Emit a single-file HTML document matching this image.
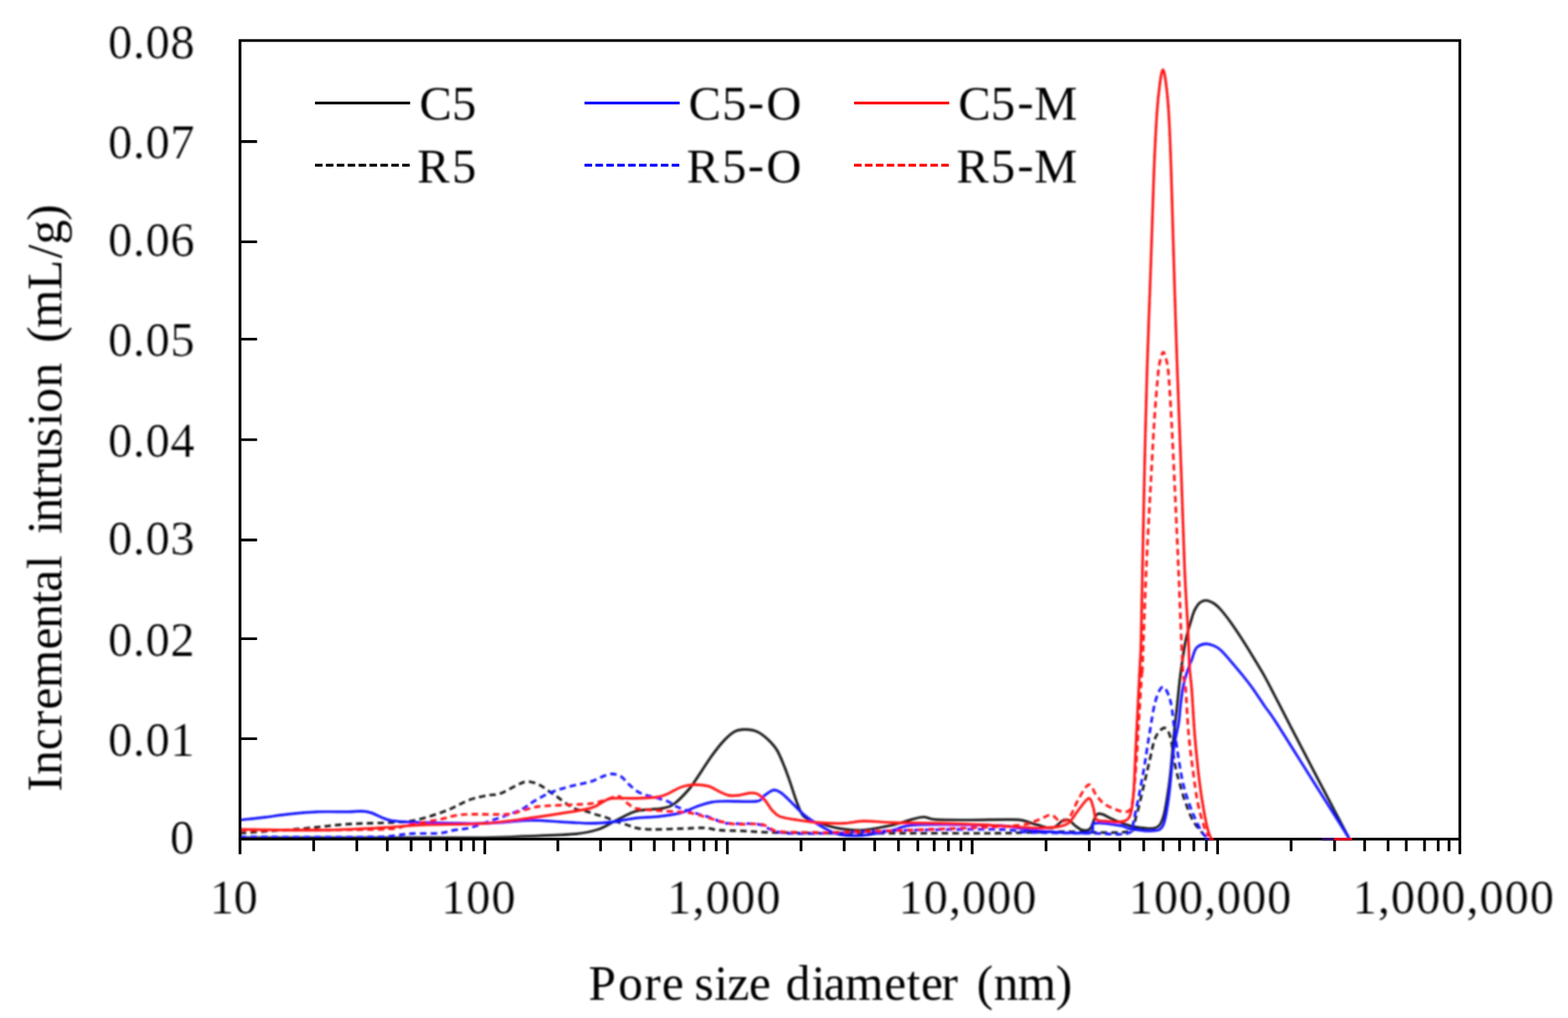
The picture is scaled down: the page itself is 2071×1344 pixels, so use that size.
<!DOCTYPE html>
<html lang="en"><head><meta charset="utf-8"><title>Chart</title>
<style>html,body{margin:0;padding:0;background:#fff;}body{width:2071px;height:1344px;overflow:hidden;}svg{display:block;}text{font-family:"Liberation Serif",serif;font-size:64px;fill:#000;}.tk text{stroke:#fff;stroke-width:0.12px;}</style>
</head><body>
<svg width="2071" height="1344" viewBox="0 0 2071 1344">
<defs><filter id="soft" filterUnits="userSpaceOnUse" x="0" y="0" width="2071" height="1344"><feGaussianBlur stdDeviation="0.80"/></filter></defs>
<rect x="0" y="0" width="2071" height="1344" fill="#fff"/>
<g fill="none" stroke-width="3.4" stroke-linejoin="round" stroke-linecap="butt" filter="url(#soft)">
<path d="M317.0,1106.0 C347.5,1106.0 446.2,1106.0 500.0,1106.0 C553.8,1106.0 607.3,1106.3 640.0,1106.0 C672.7,1105.7 676.0,1104.8 696.0,1104.0 C716.0,1103.2 744.3,1102.5 760.0,1101.0 C775.7,1099.5 781.3,1097.8 790.0,1095.0 C798.7,1092.2 805.3,1087.3 812.0,1084.0 C818.7,1080.7 824.7,1077.3 830.0,1075.0 C835.3,1072.7 836.3,1071.3 844.0,1070.0 C851.7,1068.7 868.0,1068.7 876.0,1067.0 C884.0,1065.3 886.3,1064.2 892.0,1060.0 C897.7,1055.8 905.3,1047.3 910.0,1042.0 C914.7,1036.7 915.0,1035.3 920.0,1028.0 C925.0,1020.7 934.0,1006.3 940.0,998.0 C946.0,989.7 951.0,983.3 956.0,978.0 C961.0,972.7 965.3,968.5 970.0,966.0 C974.7,963.5 979.0,963.0 984.0,963.0 C989.0,963.0 995.0,963.8 1000.0,966.0 C1005.0,968.2 1009.7,972.0 1014.0,976.0 C1018.3,980.0 1022.3,984.0 1026.0,990.0 C1029.7,996.0 1033.0,1004.7 1036.0,1012.0 C1039.0,1019.3 1041.3,1026.3 1044.0,1034.0 C1046.7,1041.7 1049.3,1051.0 1052.0,1058.0 C1054.7,1065.0 1057.0,1071.8 1060.0,1076.0 C1063.0,1080.2 1065.0,1080.8 1070.0,1083.0 C1075.0,1085.2 1083.3,1087.2 1090.0,1089.0 C1096.7,1090.8 1101.7,1092.8 1110.0,1094.0 C1118.3,1095.2 1128.3,1096.8 1140.0,1096.0 C1151.7,1095.2 1169.3,1091.3 1180.0,1089.0 C1190.7,1086.7 1197.3,1083.7 1204.0,1082.0 C1210.7,1080.3 1214.7,1078.6 1220.0,1078.6 C1225.3,1078.6 1226.0,1081.3 1236.0,1082.0 C1246.0,1082.7 1264.3,1082.6 1280.0,1082.6 C1295.7,1082.6 1318.3,1081.9 1330.0,1082.0 C1341.7,1082.1 1343.3,1081.8 1350.0,1083.0 C1356.7,1084.2 1363.3,1087.3 1370.0,1089.0 C1376.7,1090.7 1384.3,1094.0 1390.0,1093.0 C1395.7,1092.0 1400.3,1084.7 1404.0,1083.0 C1407.7,1081.3 1409.3,1081.8 1412.0,1083.0 C1414.7,1084.2 1417.0,1087.8 1420.0,1090.0 C1423.0,1092.2 1426.7,1095.3 1430.0,1096.0 C1433.3,1096.7 1437.0,1097.3 1440.0,1094.0 C1443.0,1090.7 1445.3,1079.2 1448.0,1076.0 C1450.7,1072.8 1453.0,1074.3 1456.0,1075.0 C1459.0,1075.7 1462.0,1078.2 1466.0,1080.0 C1470.0,1081.8 1474.3,1084.0 1480.0,1086.0 C1485.7,1088.0 1492.3,1090.8 1500.0,1092.0 C1507.7,1093.2 1520.0,1095.0 1526.0,1093.0 C1532.0,1091.0 1533.3,1087.2 1536.0,1080.0 C1538.7,1072.8 1540.3,1060.0 1542.0,1050.0 C1543.7,1040.0 1544.7,1032.5 1546.0,1020.0 C1547.3,1007.5 1548.6,989.3 1550.0,975.0 C1551.4,960.7 1553.2,946.5 1554.5,934.0 C1555.8,921.5 1556.8,910.7 1558.0,900.0 C1559.2,889.3 1560.7,879.0 1562.0,870.0 C1563.3,861.0 1564.7,852.7 1566.0,846.0 C1567.3,839.3 1568.8,834.3 1570.0,830.0 C1571.2,825.7 1572.0,823.3 1573.0,820.0 C1574.0,816.7 1574.9,812.9 1576.0,810.0 C1577.1,807.1 1578.0,804.9 1579.5,802.5 C1581.0,800.1 1582.8,797.1 1585.0,795.5 C1587.2,793.9 1589.9,792.4 1593.0,792.6 C1596.1,792.9 1600.5,794.9 1603.8,797.0 C1607.0,799.1 1608.6,800.5 1612.5,805.0 C1616.4,809.5 1622.2,817.0 1627.0,823.8 C1631.8,830.6 1636.8,838.1 1641.6,845.6 C1646.4,853.1 1651.2,860.8 1656.0,868.8 C1660.8,876.8 1665.8,884.8 1670.6,893.5 C1675.4,902.2 1679.7,910.8 1685.0,921.0 C1690.3,931.2 1693.0,936.7 1702.5,955.0 C1712.0,973.3 1728.8,1005.7 1742.0,1031.0 C1755.2,1056.3 1775.3,1094.3 1782.0,1107.0" stroke="#1a1a1a"/>
<path d="M317.0,1100.0 C330.8,1099.0 376.2,1095.9 400.0,1093.9 C423.8,1091.9 440.0,1089.3 460.0,1088.0 C480.0,1086.7 505.0,1086.7 520.0,1085.8 C535.0,1084.9 538.3,1085.2 550.0,1082.6 C561.7,1080.0 578.3,1074.4 590.0,1070.0 C601.7,1065.6 611.0,1059.3 620.0,1056.0 C629.0,1052.7 637.3,1051.3 644.0,1050.0 C650.7,1048.7 653.3,1050.3 660.0,1048.0 C666.7,1045.7 677.8,1038.7 684.0,1036.0 C690.2,1033.3 692.3,1031.8 697.0,1031.8 C701.7,1031.8 707.5,1034.0 712.0,1036.0 C716.5,1038.0 720.0,1041.3 724.0,1044.0 C728.0,1046.7 732.0,1049.2 736.0,1052.0 C740.0,1054.8 744.0,1058.3 748.0,1061.0 C752.0,1063.7 755.7,1066.3 760.0,1068.0 C764.3,1069.7 769.7,1069.8 774.0,1071.0 C778.3,1072.2 781.7,1073.7 786.0,1075.0 C790.3,1076.3 795.7,1077.5 800.0,1079.0 C804.3,1080.5 807.3,1082.3 812.0,1084.0 C816.7,1085.7 823.3,1087.5 828.0,1089.0 C832.7,1090.5 834.7,1092.0 840.0,1093.0 C845.3,1094.0 850.0,1094.8 860.0,1095.0 C870.0,1095.2 888.3,1094.3 900.0,1094.0 C911.7,1093.7 921.7,1092.7 930.0,1093.0 C938.3,1093.3 941.7,1095.3 950.0,1096.0 C958.3,1096.7 968.3,1096.5 980.0,1097.0 C991.7,1097.5 1000.0,1098.5 1020.0,1099.0 C1040.0,1099.5 1065.0,1099.8 1100.0,1100.0 C1135.0,1100.2 1193.3,1100.0 1230.0,1100.0 C1266.7,1100.0 1291.7,1100.3 1320.0,1100.0 C1348.3,1099.7 1371.7,1098.3 1400.0,1098.0 C1428.3,1097.7 1473.3,1101.0 1490.0,1098.0 C1506.7,1095.0 1496.7,1089.7 1500.0,1080.0 C1503.3,1070.3 1507.0,1052.3 1510.0,1040.0 C1513.0,1027.7 1515.3,1017.0 1518.0,1006.0 C1520.7,995.0 1522.7,981.5 1526.0,974.0 C1529.3,966.5 1534.7,961.0 1538.0,961.0 C1541.3,961.0 1543.7,965.8 1546.0,974.0 C1548.3,982.2 1550.0,1000.0 1552.0,1010.0 C1554.0,1020.0 1555.7,1025.7 1558.0,1034.0 C1560.3,1042.3 1563.0,1051.7 1566.0,1060.0 C1569.0,1068.3 1572.0,1077.0 1576.0,1084.0 C1580.0,1091.0 1586.7,1098.2 1590.0,1102.0 C1593.3,1105.8 1595.0,1106.2 1596.0,1107.0" stroke="#1a1a1a" stroke-dasharray="8.5 5.5"/>
<path d="M317.0,1082.6 C322.5,1082.0 339.5,1080.3 350.0,1079.0 C360.5,1077.7 368.3,1076.2 380.0,1075.0 C391.7,1073.8 406.7,1072.3 420.0,1071.8 C433.3,1071.3 450.7,1071.9 460.0,1071.8 C469.3,1071.7 471.0,1070.8 476.0,1071.0 C481.0,1071.2 483.3,1071.0 490.0,1073.0 C496.7,1075.0 504.3,1081.0 516.0,1083.2 C527.7,1085.4 539.3,1085.4 560.0,1086.0 C580.7,1086.6 616.7,1087.5 640.0,1087.0 C663.3,1086.5 683.3,1083.3 700.0,1083.0 C716.7,1082.7 726.7,1084.3 740.0,1085.0 C753.3,1085.7 768.3,1087.0 780.0,1087.0 C791.7,1087.0 800.0,1086.2 810.0,1085.0 C820.0,1083.8 830.0,1081.2 840.0,1080.0 C850.0,1078.8 860.0,1079.2 870.0,1078.0 C880.0,1076.8 891.7,1075.2 900.0,1073.0 C908.3,1070.8 913.3,1067.3 920.0,1065.0 C926.7,1062.7 933.3,1060.2 940.0,1059.0 C946.7,1057.8 950.0,1058.0 960.0,1057.8 C970.0,1057.6 991.7,1059.1 1000.0,1057.8 C1008.3,1056.5 1006.3,1052.5 1010.0,1050.0 C1013.7,1047.5 1018.3,1043.5 1022.0,1043.0 C1025.7,1042.5 1028.3,1044.5 1032.0,1047.0 C1035.7,1049.5 1039.3,1053.5 1044.0,1058.0 C1048.7,1062.5 1055.3,1069.8 1060.0,1074.0 C1064.7,1078.2 1067.0,1079.7 1072.0,1083.0 C1077.0,1086.3 1083.7,1090.8 1090.0,1094.0 C1096.3,1097.2 1101.7,1100.5 1110.0,1102.0 C1118.3,1103.5 1128.3,1104.0 1140.0,1103.0 C1151.7,1102.0 1168.3,1098.3 1180.0,1096.0 C1191.7,1093.7 1186.7,1090.0 1210.0,1089.0 C1233.3,1088.0 1295.0,1088.8 1320.0,1090.0 C1345.0,1091.2 1346.7,1094.5 1360.0,1096.0 C1373.3,1097.5 1386.7,1098.5 1400.0,1099.0 C1413.3,1099.5 1432.3,1101.0 1440.0,1099.0 C1447.7,1097.0 1439.3,1088.5 1446.0,1087.0 C1452.7,1085.5 1472.3,1088.8 1480.0,1090.0 C1487.7,1091.2 1485.3,1092.8 1492.0,1094.0 C1498.7,1095.2 1512.7,1097.7 1520.0,1097.0 C1527.3,1096.3 1532.0,1097.8 1536.0,1090.0 C1540.0,1082.2 1541.7,1066.7 1544.0,1050.0 C1546.3,1033.3 1547.9,1005.8 1550.0,990.0 C1552.1,974.2 1555.2,964.3 1556.7,955.0 C1558.2,945.7 1558.1,941.2 1558.9,934.0 C1559.8,926.8 1560.8,918.0 1561.8,912.0 C1562.8,906.0 1563.6,902.1 1564.7,897.8 C1565.8,893.5 1567.1,889.6 1568.3,886.0 C1569.5,882.4 1570.9,878.9 1572.0,876.0 C1573.1,873.1 1573.8,871.5 1574.8,868.8 C1575.8,866.1 1576.5,862.5 1577.7,860.0 C1578.9,857.5 1579.5,855.3 1582.0,853.6 C1584.5,851.9 1589.4,850.1 1593.0,850.0 C1596.6,849.9 1600.5,851.4 1603.8,852.8 C1607.0,854.2 1608.6,855.0 1612.5,858.6 C1616.4,862.2 1622.2,869.0 1627.0,874.6 C1631.8,880.2 1636.8,886.0 1641.6,892.0 C1646.4,898.0 1651.2,904.1 1656.0,910.9 C1660.8,917.7 1665.8,925.6 1670.6,932.6 C1675.4,939.6 1674.5,936.8 1685.0,953.0 C1695.5,969.2 1717.3,1004.3 1733.5,1030.0 C1749.7,1055.7 1773.9,1094.2 1782.0,1107.0" stroke="#1414ff"/>
<path d="M317.0,1105.0 C345.8,1105.0 455.3,1105.4 490.0,1105.0 C524.7,1104.6 515.8,1103.2 525.0,1102.5 C534.2,1101.8 535.8,1100.9 545.0,1100.5 C554.2,1100.1 570.8,1100.8 580.0,1100.0 C589.2,1099.2 593.3,1097.2 600.0,1096.0 C606.7,1094.8 611.7,1095.2 620.0,1093.0 C628.3,1090.8 641.7,1085.8 650.0,1083.0 C658.3,1080.2 663.3,1078.5 670.0,1076.0 C676.7,1073.5 684.2,1071.0 690.0,1068.0 C695.8,1065.0 699.0,1061.5 705.0,1058.0 C711.0,1054.5 718.5,1050.2 726.0,1047.0 C733.5,1043.8 741.0,1041.5 750.0,1039.0 C759.0,1036.5 772.7,1034.2 780.0,1032.0 C787.3,1029.8 789.5,1027.7 794.0,1026.0 C798.5,1024.3 802.7,1022.0 807.0,1021.8 C811.3,1021.6 816.2,1022.8 820.0,1025.0 C823.8,1027.2 826.3,1031.7 830.0,1035.0 C833.7,1038.3 838.0,1042.5 842.0,1045.0 C846.0,1047.5 849.3,1048.5 854.0,1050.0 C858.7,1051.5 865.0,1052.5 870.0,1054.0 C875.0,1055.5 879.7,1057.0 884.0,1059.0 C888.3,1061.0 890.0,1063.5 896.0,1066.0 C902.0,1068.5 912.7,1071.7 920.0,1074.0 C927.3,1076.3 933.3,1077.8 940.0,1080.0 C946.7,1082.2 950.0,1085.7 960.0,1087.0 C970.0,1088.3 990.0,1086.5 1000.0,1088.0 C1010.0,1089.5 1013.3,1094.0 1020.0,1096.0 C1026.7,1098.0 1026.7,1099.3 1040.0,1100.0 C1053.3,1100.7 1073.3,1100.7 1100.0,1100.0 C1126.7,1099.3 1163.3,1096.8 1200.0,1096.0 C1236.7,1095.2 1293.3,1094.5 1320.0,1095.0 C1346.7,1095.5 1340.0,1098.2 1360.0,1099.0 C1380.0,1099.8 1418.3,1099.8 1440.0,1100.0 C1461.7,1100.2 1480.3,1103.3 1490.0,1100.0 C1499.7,1096.7 1494.7,1093.3 1498.0,1080.0 C1501.3,1066.7 1506.7,1038.3 1510.0,1020.0 C1513.3,1001.7 1515.3,985.7 1518.0,970.0 C1520.7,954.3 1523.0,936.5 1526.0,926.0 C1529.0,915.5 1532.7,907.0 1536.0,907.0 C1539.3,907.0 1543.3,915.5 1546.0,926.0 C1548.7,936.5 1550.0,956.0 1552.0,970.0 C1554.0,984.0 1556.0,998.3 1558.0,1010.0 C1560.0,1021.7 1561.3,1030.0 1564.0,1040.0 C1566.7,1050.0 1570.3,1060.7 1574.0,1070.0 C1577.7,1079.3 1582.7,1090.0 1586.0,1096.0 C1589.3,1102.0 1592.7,1104.3 1594.0,1106.0" stroke="#1414ff" stroke-dasharray="8.5 5.5"/>
<path d="M317.0,1095.0 C334.2,1095.2 389.5,1096.3 420.0,1096.0 C450.5,1095.7 476.7,1094.2 500.0,1093.0 C523.3,1091.8 536.7,1090.0 560.0,1089.0 C583.3,1088.0 616.7,1088.5 640.0,1087.0 C663.3,1085.5 683.3,1082.2 700.0,1080.0 C716.7,1077.8 726.7,1076.2 740.0,1074.0 C753.3,1071.8 770.7,1069.5 780.0,1067.0 C789.3,1064.5 791.3,1061.2 796.0,1059.0 C800.7,1056.8 800.7,1054.8 808.0,1054.0 C815.3,1053.2 829.7,1054.3 840.0,1054.0 C850.3,1053.7 862.7,1053.2 870.0,1052.0 C877.3,1050.8 879.0,1049.2 884.0,1047.0 C889.0,1044.8 894.7,1040.8 900.0,1039.0 C905.3,1037.2 910.0,1036.2 916.0,1036.0 C922.0,1035.8 930.3,1036.5 936.0,1038.0 C941.7,1039.5 945.7,1043.0 950.0,1045.0 C954.3,1047.0 957.7,1049.2 962.0,1050.0 C966.3,1050.8 971.3,1050.5 976.0,1050.0 C980.7,1049.5 986.0,1047.3 990.0,1047.0 C994.0,1046.7 996.7,1046.5 1000.0,1048.0 C1003.3,1049.5 1006.7,1052.3 1010.0,1056.0 C1013.3,1059.7 1016.7,1066.3 1020.0,1070.0 C1023.3,1073.7 1025.0,1076.0 1030.0,1078.0 C1035.0,1080.0 1041.7,1080.7 1050.0,1082.0 C1058.3,1083.3 1069.3,1085.2 1080.0,1086.0 C1090.7,1086.8 1104.0,1087.3 1114.0,1087.0 C1124.0,1086.7 1129.0,1084.2 1140.0,1084.0 C1151.0,1083.8 1163.3,1085.5 1180.0,1086.0 C1196.7,1086.5 1220.0,1086.5 1240.0,1087.0 C1260.0,1087.5 1280.0,1088.0 1300.0,1089.0 C1320.0,1090.0 1346.7,1092.3 1360.0,1093.0 C1373.3,1093.7 1373.3,1093.3 1380.0,1093.0 C1386.7,1092.7 1394.7,1092.2 1400.0,1091.0 C1405.3,1089.8 1408.0,1089.5 1412.0,1086.0 C1416.0,1082.5 1419.7,1075.3 1424.0,1070.0 C1428.3,1064.7 1434.7,1054.7 1438.0,1054.0 C1441.3,1053.3 1442.3,1061.3 1444.0,1066.0 C1445.7,1070.7 1445.3,1079.0 1448.0,1082.0 C1450.7,1085.0 1454.7,1083.5 1460.0,1084.0 C1465.3,1084.5 1474.7,1086.0 1480.0,1085.0 C1485.3,1084.0 1489.2,1083.8 1492.0,1078.0 C1494.8,1072.2 1495.7,1064.7 1497.0,1050.0 C1498.3,1035.3 1499.2,1006.7 1500.0,990.0 C1500.8,973.3 1501.2,966.7 1502.0,950.0 C1502.8,933.3 1504.2,906.7 1505.0,890.0 C1505.8,873.3 1506.3,873.3 1507.0,850.0 C1507.7,826.7 1508.2,788.5 1509.0,750.0 C1509.8,711.5 1510.7,662.3 1511.7,619.0 C1512.7,575.7 1513.6,534.8 1515.0,490.0 C1516.4,445.2 1518.5,393.3 1520.0,350.0 C1521.5,306.7 1522.7,263.3 1524.0,230.0 C1525.3,196.7 1526.7,170.0 1528.0,150.0 C1529.3,130.0 1530.7,119.7 1532.0,110.0 C1533.3,100.3 1534.7,92.0 1536.0,92.0 C1537.3,92.0 1538.7,100.3 1540.0,110.0 C1541.3,119.7 1542.5,130.0 1543.7,150.0 C1544.9,170.0 1545.9,196.7 1547.0,230.0 C1548.1,263.3 1549.2,306.7 1550.5,350.0 C1551.8,393.3 1553.4,445.2 1555.0,490.0 C1556.6,534.8 1558.4,575.7 1560.0,619.0 C1561.6,662.3 1563.1,714.8 1564.6,750.0 C1566.1,785.2 1567.9,808.5 1569.0,830.0 C1570.1,851.5 1570.2,865.7 1571.0,879.0 C1571.8,892.3 1572.8,894.8 1574.0,910.0 C1575.2,925.2 1576.3,950.0 1578.0,970.0 C1579.7,990.0 1582.0,1013.3 1584.0,1030.0 C1586.0,1046.7 1588.0,1058.7 1590.0,1070.0 C1592.0,1081.3 1594.3,1091.8 1596.0,1098.0 C1597.7,1104.2 1599.3,1105.5 1600.0,1107.0" stroke="#ff1414"/>
<path d="M317.0,1096.0 C347.5,1095.8 462.8,1096.2 500.0,1095.0 C537.2,1093.8 526.7,1091.2 540.0,1089.0 C553.3,1086.8 570.0,1084.0 580.0,1082.0 C590.0,1080.0 593.3,1078.2 600.0,1077.0 C606.7,1075.8 608.3,1075.3 620.0,1075.0 C631.7,1074.7 658.3,1075.8 670.0,1075.0 C681.7,1074.2 683.3,1071.7 690.0,1070.0 C696.7,1068.3 701.7,1066.2 710.0,1065.0 C718.3,1063.8 728.3,1063.7 740.0,1063.0 C751.7,1062.3 770.0,1062.2 780.0,1061.0 C790.0,1059.8 794.0,1057.7 800.0,1056.0 C806.0,1054.3 812.0,1051.0 816.0,1051.0 C820.0,1051.0 821.3,1054.0 824.0,1056.0 C826.7,1058.0 828.7,1061.0 832.0,1063.0 C835.3,1065.0 836.0,1066.7 844.0,1068.0 C852.0,1069.3 869.0,1070.2 880.0,1071.0 C891.0,1071.8 901.7,1071.8 910.0,1073.0 C918.3,1074.2 923.3,1076.2 930.0,1078.0 C936.7,1079.8 943.3,1082.3 950.0,1084.0 C956.7,1085.7 961.0,1087.3 970.0,1088.0 C979.0,1088.7 996.3,1087.2 1004.0,1088.0 C1011.7,1088.8 1011.7,1091.3 1016.0,1093.0 C1020.3,1094.7 1019.3,1097.0 1030.0,1098.0 C1040.7,1099.0 1068.3,1098.8 1080.0,1099.0 C1091.7,1099.2 1080.0,1099.5 1100.0,1099.0 C1120.0,1098.5 1160.0,1097.5 1200.0,1096.0 C1240.0,1094.5 1311.7,1092.2 1340.0,1090.0 C1368.3,1087.8 1362.0,1085.3 1370.0,1083.0 C1378.0,1080.7 1383.0,1075.8 1388.0,1076.0 C1393.0,1076.2 1396.0,1083.3 1400.0,1084.0 C1404.0,1084.7 1408.0,1084.7 1412.0,1080.0 C1416.0,1075.3 1419.7,1063.3 1424.0,1056.0 C1428.3,1048.7 1434.0,1037.0 1438.0,1036.0 C1442.0,1035.0 1444.7,1045.8 1448.0,1050.0 C1451.3,1054.2 1454.0,1058.0 1458.0,1061.0 C1462.0,1064.0 1467.3,1066.2 1472.0,1068.0 C1476.7,1069.8 1482.3,1072.3 1486.0,1072.0 C1489.7,1071.7 1492.0,1071.3 1494.0,1066.0 C1496.0,1060.7 1496.7,1052.7 1498.0,1040.0 C1499.3,1027.3 1501.2,1001.7 1502.0,990.0 C1502.8,978.3 1502.0,986.7 1503.0,970.0 C1504.0,953.3 1507.0,905.2 1508.0,890.0 C1509.0,874.8 1508.0,902.3 1509.0,879.0 C1510.0,855.7 1512.0,793.3 1514.0,750.0 C1516.0,706.7 1519.2,652.3 1521.0,619.0 C1522.8,585.7 1523.5,571.5 1525.0,550.0 C1526.5,528.5 1528.5,503.3 1530.0,490.0 C1531.5,476.7 1532.9,474.2 1534.0,470.0 C1535.1,465.8 1535.7,465.0 1536.5,465.0 C1537.3,465.0 1537.9,465.8 1539.0,470.0 C1540.1,474.2 1541.7,476.7 1543.0,490.0 C1544.3,503.3 1545.8,528.5 1547.0,550.0 C1548.2,571.5 1548.9,585.7 1550.5,619.0 C1552.1,652.3 1554.6,706.7 1556.5,750.0 C1558.4,793.3 1560.4,852.3 1562.0,879.0 C1563.6,905.7 1564.7,894.8 1566.0,910.0 C1567.3,925.2 1568.3,951.7 1570.0,970.0 C1571.7,988.3 1574.0,1005.0 1576.0,1020.0 C1578.0,1035.0 1579.7,1048.3 1582.0,1060.0 C1584.3,1071.7 1587.7,1082.7 1590.0,1090.0 C1592.3,1097.3 1595.0,1101.7 1596.0,1104.0" stroke="#ff1414" stroke-dasharray="8.5 5.5"/>
</g>
<g stroke="#000" stroke-width="3.6" fill="none">
<rect x="317.0" y="53.5" width="1611.2" height="1054.3"/>
<path d="M317.0,186.9 H339.5 M317.0,319.2 H339.5 M317.0,447.7 H339.5 M317.0,580.5 H339.5 M317.0,712.9 H339.5 M317.0,843.3 H339.5 M317.0,975.3 H339.5 M317.0,1107.8 V1127.8 M640.3,1107.8 V1127.8 M960.7,1107.8 V1127.8 M1284.0,1107.8 V1127.8 M1608.2,1107.8 V1127.8 M1928.2,1107.8 V1127.8 M414.3,1107.8 V1123.8 M471.3,1107.8 V1123.8 M511.6,1107.8 V1123.8 M543.0,1107.8 V1123.8 M568.6,1107.8 V1123.8 M590.2,1107.8 V1123.8 M609.0,1107.8 V1123.8 M625.5,1107.8 V1123.8 M736.8,1107.8 V1123.8 M793.2,1107.8 V1123.8 M833.2,1107.8 V1123.8 M864.2,1107.8 V1123.8 M889.6,1107.8 V1123.8 M911.1,1107.8 V1123.8 M929.7,1107.8 V1123.8 M946.0,1107.8 V1123.8 M1058.0,1107.8 V1123.8 M1115.0,1107.8 V1123.8 M1155.3,1107.8 V1123.8 M1186.7,1107.8 V1123.8 M1212.3,1107.8 V1123.8 M1233.9,1107.8 V1123.8 M1252.7,1107.8 V1123.8 M1269.2,1107.8 V1123.8 M1381.6,1107.8 V1123.8 M1438.7,1107.8 V1123.8 M1479.2,1107.8 V1123.8 M1510.6,1107.8 V1123.8 M1536.3,1107.8 V1123.8 M1558.0,1107.8 V1123.8 M1576.8,1107.8 V1123.8 M1593.4,1107.8 V1123.8 M1705.3,1107.8 V1123.8 M1762.7,1107.8 V1123.8 M1802.4,1107.8 V1123.8 M1833.4,1107.8 V1123.8 M1857.4,1107.8 V1123.8 M1881.5,1107.8 V1123.8 M1899.6,1107.8 V1123.8 M1913.9,1107.8 V1123.8"/>
</g>
<line x1="416.0" y1="136.0" x2="541.7" y2="136.0" stroke="#000" stroke-width="3.7"/>
<line x1="416.0" y1="218.1" x2="541.7" y2="218.1" stroke="#000" stroke-width="3.7" stroke-dasharray="10 4.4"/>
<line x1="772.0" y1="136.0" x2="897.7" y2="136.0" stroke="#0000ff" stroke-width="3.7"/>
<line x1="772.0" y1="218.1" x2="897.7" y2="218.1" stroke="#0000ff" stroke-width="3.7" stroke-dasharray="10 4.4"/>
<line x1="1128.0" y1="136.0" x2="1253.7" y2="136.0" stroke="#ff0000" stroke-width="3.7"/>
<line x1="1128.0" y1="218.1" x2="1253.7" y2="218.1" stroke="#ff0000" stroke-width="3.7" stroke-dasharray="10 4.4"/>
<path d="M1746,1107.8 H1762" stroke="#30106a" stroke-width="3.6"/>
<path d="M1762,1107.8 H1786" stroke="#e00020" stroke-width="3.6"/>
<path d="M1591,1107.8 H1597" stroke="#1a10a0" stroke-width="3.6"/>
<path d="M1597,1107.8 H1603" stroke="#d00018" stroke-width="3.6"/>
<g filter="url(#soft)">
<g class="tk">
<text x="142.7" y="76.5" textLength="114.2" lengthAdjust="spacing">0.08</text>
<text x="142.7" y="208.6" textLength="114.2" lengthAdjust="spacing">0.07</text>
<text x="142.7" y="337.5" textLength="114.2" lengthAdjust="spacing">0.06</text>
<text x="142.7" y="470.0" textLength="114.2" lengthAdjust="spacing">0.05</text>
<text x="142.7" y="603.3" textLength="114.2" lengthAdjust="spacing">0.04</text>
<text x="142.7" y="732.3" textLength="114.2" lengthAdjust="spacing">0.03</text>
<text x="142.7" y="865.5" textLength="114.2" lengthAdjust="spacing">0.02</text>
<text x="142.7" y="997.8" textLength="114.2" lengthAdjust="spacing">0.01</text>
<text x="256.5" y="1127" text-anchor="end">0</text>
<text x="277.0" y="1206" textLength="63.5" lengthAdjust="spacing">10</text>
<text x="582.8" y="1206" textLength="98.1" lengthAdjust="spacing">100</text>
<text x="880.9" y="1206" textLength="150.1" lengthAdjust="spacing">1,000</text>
<text x="1186.8" y="1206" textLength="182.2" lengthAdjust="spacing">10,000</text>
<text x="1490.8" y="1206" textLength="214.7" lengthAdjust="spacing">100,000</text>
<text x="1786.5" y="1206" textLength="265.9" lengthAdjust="spacing">1,000,000</text>
</g>
<text x="777.2 816.4 851.0 874.3 903.2 917.2 943.4 960.7 989.2 1018.1 1037.7 1071.9 1088.0 1116.3 1168.1 1197.5 1216.6 1243.4 1265.0 1290.1 1312.5 1344.2 1394.4" y="1320.3" style="font-size:65px">Pore size diameter (nm)</text>
<text transform="rotate(-90)" x="-1045.0 -1023.1 -990.5 -960.0 -936.8 -908.5 -857.6 -829.9 -798.1 -781.1 -751.2 -733.1 -705.0 -689.7 -659.5 -640.9 -621.6 -590.2 -563.0 -544.8 -511.5 -479.0 -452.6 -433.1 -382.8 -340.9 -322.8 -291.6" y="81.2" style="font-size:65px">Incremental intrusion (mL/g)</text>
<g class="lg">
<text x="554.0 596.9" y="158.3 158.3">C5</text>
<text x="551.0 596.9" y="241.2 241.2">R5</text>
<text x="909.4 953.8 987.7 1012.2" y="158.3 158.3 156.3 158.3">C5-O</text>
<text x="907.0 953.8 987.7 1012.2" y="241.2 241.2 239.2 241.2">R5-O</text>
<text x="1265.8 1308.8 1343.7 1366.0" y="158.3 158.3 156.3 158.3">C5-M</text>
<text x="1263.2 1308.8 1343.7 1366.0" y="241.2 241.2 239.2 241.2">R5-M</text>
</g>
</g>
</svg>
</body></html>
